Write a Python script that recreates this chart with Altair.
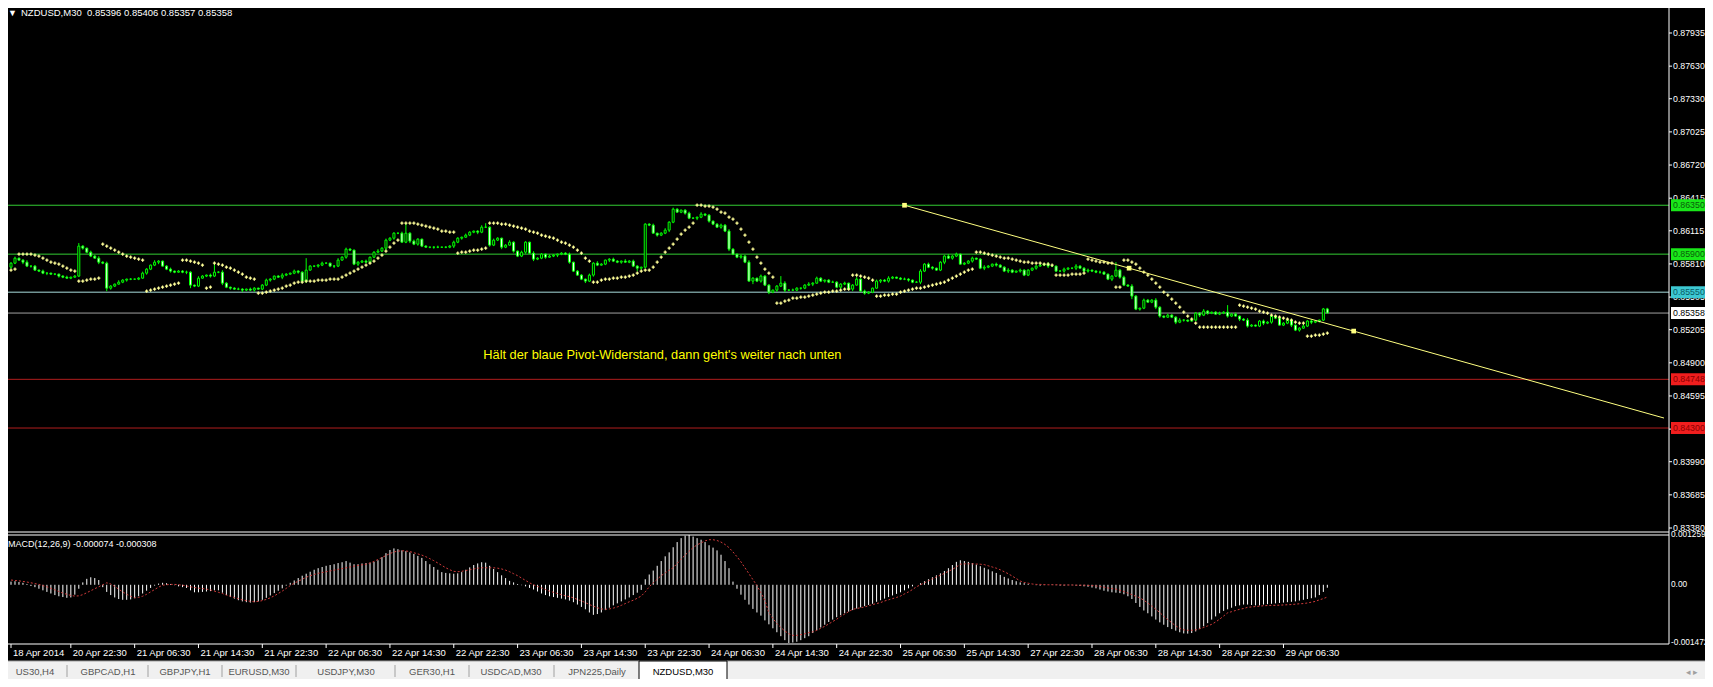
import altair as alt
import pandas as pd

# ---------------------------------------------------------------- data
SYMBOL = "NZDUSD,M30"

# close of every M30 bar, in 1e-5 price units
CLOSE_E5 = [
 85817,85863,85845,85826,85790,85790,85753,85744,85725,85725,85716,85716,85698,85688,85679,85688,85698,
 85974,85955,85918,85882,85863,85826,85817,85587,85606,85624,85642,85661,85670,85670,85670,85679,
 85725,85762,85799,85826,85836,85790,85762,85744,85734,85744,85734,85734,85615,85606,85679,85698,
 85707,85698,85734,85734,85633,85596,85587,85578,85578,85569,85578,85569,85587,85578,85615,85661,
 85670,85698,85688,85707,85716,85725,85744,85734,85652,85753,85790,85790,85799,85817,85817,85790,
 85790,85845,85872,85946,85937,85808,85826,85836,85826,85872,85918,85928,85955,86029,86047,86093,
 86093,86010,86093,86020,85992,86038,85974,85964,85964,85964,85964,85964,85964,85974,86010,86047,
 86056,86075,86102,86112,86102,86148,86148,85983,86029,86047,85964,85983,86010,85928,85882,85918,
 86010,85909,85854,85863,85900,85872,85882,85891,85900,85909,85900,85826,85744,85707,85670,85652,
 85707,85817,85799,85808,85845,85854,85836,85826,85836,85826,85836,85790,85771,85780,86176,86167,
 86093,86075,86093,86121,86194,86314,86286,86305,86277,86231,86231,86240,86268,86259,86204,86176,
 86148,86167,86112,85946,85900,85872,85882,85826,85652,85679,85652,85698,85615,85550,85569,85606,
 85633,85569,85569,85569,85587,85587,85615,85624,85633,85679,85652,85661,85642,85642,85596,85624,
 85633,85578,85615,85670,85560,85541,85550,85587,85652,85661,85652,85679,85688,85679,85670,85670,
 85661,85642,85642,85744,85808,85780,85771,85753,85826,85882,85863,85882,85900,85808,85817,85836,
 85863,85854,85771,85780,85790,85808,85799,85780,85744,85753,85734,85744,85753,85707,85753,85771,
 85790,85799,85808,85790,85790,85744,85744,85762,85771,85771,85790,85771,85744,85753,85744,85734,
 85734,85716,85670,85698,85753,85688,85615,85606,85514,85394,85403,85477,85458,85477,85412,85330,
 85320,85339,85320,85274,85293,85293,85284,85293,85357,85339,85376,85357,85366,85348,85357,85366,
 85330,85348,85330,85302,85293,85238,85247,85238,85284,85265,85274,85330,85311,85247,85265,85293,
 85247,85201,85219,85238,85284,85274,85284,85293,85396,85358,
]
FIRST_OPEN_E5 = 85780

# wick lengths above / below the candle body, 1e-5 units
UPPER_WICK_E5 = [
 9,14,5,9,18,5,9,5,14,9,5,9,5,9,14,5,
 9,28,9,5,14,9,18,9,14,9,5,18,9,5,9,5,
 9,14,9,5,18,9,5,9,14,5,9,9,14,9,5,18,
 9,5,14,83,9,18,9,5,9,14,9,5,14,9,5,9,
 14,9,5,9,18,9,5,14,9,9,110,9,5,9,14,9,
 5,9,18,9,14,9,5,9,9,14,5,9,18,9,14,9,
 9,5,14,92,9,14,9,5,9,5,9,14,5,9,9,14,
 9,5,14,9,5,9,18,37,9,14,9,5,9,18,9,5,
 14,9,5,18,9,9,5,14,9,5,9,9,14,5,9,9,
 5,14,9,18,9,5,9,14,9,5,18,9,14,9,5,9,
 9,14,5,9,18,9,14,9,5,9,14,9,5,18,9,9,
 5,9,14,9,18,9,5,14,9,18,9,5,14,9,9,5,
 9,65,18,9,14,9,5,9,18,9,14,9,5,9,14,9,
 9,14,5,9,18,9,14,9,5,14,9,9,18,9,5,9,
 14,9,5,9,18,9,14,9,5,9,9,18,9,14,5,9,
 9,14,5,9,18,9,5,14,9,9,18,9,5,14,9,9,
 5,9,14,9,18,9,5,9,14,9,5,18,9,9,14,5,
 9,14,9,5,9,73,9,14,9,18,9,5,14,9,9,18,
 9,5,14,9,9,18,9,5,14,9,9,18,9,5,9,14,
 9,65,9,14,5,9,18,9,5,9,14,9,18,9,5,9,
 14,9,5,9,18,9,14,9,5,9,10,
]
LOWER_WICK_E5 = [
 14,9,5,18,9,14,5,9,9,18,5,9,14,9,5,9,
 5,9,14,9,9,5,18,9,28,14,9,5,9,14,9,5,
 9,5,14,9,9,18,5,9,14,9,5,9,18,28,9,9,
 5,9,14,9,9,18,9,14,5,9,18,9,9,14,5,9,
 9,14,9,5,18,9,5,9,14,9,18,5,9,14,9,5,
 9,18,9,5,14,9,9,18,5,9,14,9,5,9,18,9,
 14,9,5,9,18,9,14,9,5,9,14,9,5,9,9,18,
 9,14,5,9,9,18,9,5,14,9,9,18,9,5,14,9,
 9,14,5,18,9,9,14,5,9,18,9,9,14,9,5,9,
 18,9,14,9,5,9,18,9,9,14,5,9,9,28,14,9,
 9,5,14,9,9,18,9,5,9,14,9,5,18,9,9,14,
 9,5,14,9,18,9,9,14,9,5,28,9,14,9,18,9,
 14,9,18,9,5,9,14,9,9,18,5,9,14,9,5,9,
 14,9,9,18,5,9,14,9,9,5,18,9,14,9,5,9,
 9,14,9,5,18,9,9,14,5,9,18,9,14,9,5,9,
 9,14,5,9,18,9,9,14,5,9,18,9,5,14,9,9,
 9,14,5,9,18,9,9,5,14,9,9,18,5,9,14,9,
 9,14,5,9,18,9,14,9,5,28,9,14,9,5,9,18,
 14,9,5,9,18,9,14,9,5,9,18,9,14,9,5,9,
 9,14,9,5,18,9,14,9,5,9,18,9,14,9,5,9,
 9,18,9,14,5,9,18,9,14,9,1,
]

# parabolic SAR per bar, 1e-5 units
SAR_E5 = [
 85753,85762,
 85900,85900,85900,85900,85891,85882,85863,85845,85826,85817,85808,85790,85771,85753,85744,
 85652,85652,85661,85670,85670,85679,
 85992,85974,85955,85937,85918,85900,85882,85872,85863,85854,85845,
 85560,85569,85578,85587,85596,85606,85615,85624,85633,
 85845,85845,85836,85826,85817,85799,
 85587,85596,
 85817,85808,85799,85780,85771,85753,85734,85716,85688,85679,85670,
 85541,85541,85550,85560,85569,85578,85587,85606,85615,85633,
 85642,85642,85652,85652,85652,85661,85661,85661,85670,85670,
 85670,85688,85707,85725,85744,85762,85780,85799,85817,85836,85863,85891,
 85928,85964,86001,86029,
 86185,86185,86185,86185,86176,86167,86158,86148,86139,86130,86112,86112,86102,86102,
 85909,85918,85918,85928,85937,85937,85946,85955,
 86185,86185,86185,86176,86176,86167,86158,86148,86139,86130,86112,86102,86093,86075,86066,86056,86047,86029,
 86010,86001,85983,85964,85937,85909,
 85863,85836,
 85642,85642,85661,85670,85670,85679,85679,85688,85688,85698,85707,85725,85744,85753,85753,85780,
 85826,85872,85918,85955,85992,86038,86084,86121,86148,86185,
 86351,86351,86342,86342,86332,86314,86286,86277,86240,86222,86185,86130,86075,86010,85946,85872,
 85817,85762,85725,85688,
 85449,85449,85468,85477,85495,85495,85504,85504,85514,85523,85532,85541,85550,85550,85560,85560,
 85569,85578,85578,
 85707,85707,85698,85688,85679,85661,
 85514,85514,85523,85523,85532,85532,
 85550,85560,85569,85578,85587,85587,85596,85606,85615,85624,85633,
 85642,85661,85679,85698,85716,85734,85753,85762,
 85918,85918,85909,85900,85891,85882,85872,85863,85863,85854,85845,85836,85826,85826,85817,85817,
 85817,85808,85808,85799,
 85707,85707,85707,85707,85716,85716,85716,85725,
 85854,85845,85836,85826,85826,85817,85817,
 85596,85596,
 85845,85845,85826,85808,85771,
 85734,85707,85670,85633,85596,85550,85523,85486,85449,85412,85366,85330,85302,85265,
 85228,85228,85228,85228,85228,85228,85228,85228,85228,85228,
 85431,85422,85412,85403,85394,85376,85366,85357,85339,85330,85320,85311,85302,85293,85274,85265,85265,
 85146,85146,85155,85155,85164,85173,
]

# MACD(12,26,9) main value and signal per bar, 1e-6 units
MACD_E6 = [
 80,90,70,50,20,
 -30,-60,-100,-140,-180,-220,-260,-290,-310,-330,-320,
 -250,-100,60,150,190,170,120,
 -60,-180,-260,-320,-360,-380,-380,-370,-340,-290,-220,
 -150,-80,-20,30,50,40,20,
 -10,-40,-60,-80,-140,-190,-190,-180,-170,-160,-140,-140,
 -200,-260,-310,-350,-390,-420,-440,-450,-440,-420,-380,
 -330,-270,-210,-150,-90,
 -20,50,110,170,230,280,330,
 380,420,450,480,500,520,550,570,600,
 560,520,520,540,550,560,580,620,
 700,800,880,920,900,
 870,850,820,780,730,680,
 600,520,450,380,320,
 300,290,280,290,320,380,440,
 500,540,570,560,
 480,400,320,240,
 170,100,60,20,-10,
 -40,-80,-120,-170,
 -220,-260,-290,-310,-330,-350,-370,-400,-440,-500,-560,-620,
 -700,-760,-740,-700,
 -640,-580,-520,-470,-420,-370,-320,
 -260,-200,-130,
 140,260,360,
 480,600,720,820,950,
 1080,1180,1240,1259,
 1220,1180,1140,1080,1000,940,870,
 760,600,420,80,
 -100,-250,-380,-500,-610,-700,-780,
 -900,-1000,-1100,-1200,-1300,-1400,-1472,
 -1460,-1440,-1400,-1350,-1300,
 -1220,-1150,-1080,-1010,-940,-880,-820,-770,-720,-680,-640,-600,-570,-540,-510,-480,
 -430,-390,-350,-310,-270,-230,-190,-140,-90,
 -40,0,40,
 90,140,190,240,290,
 350,420,500,580,620,
 600,580,550,510,470,430,
 390,340,300,250,200,160,120,90,
 60,40,20,0,
 -10,-20,-10,0,10,-10,-20,-20,-10,-10,-20,-30,-40,-50,-70,-90,-120,-150,
 -170,-190,-200,-210,-240,-290,-360,
 -460,-560,-650,-720,-800,-880,-950,
 -1010,-1070,-1120,-1160,-1200,-1230,-1235,-1220,
 -1180,-1120,-1050,-970,-880,-800,
 -720,-660,-620,-580,-540,
 -520,-500,-500,-510,-520,-520,
 -500,-490,-480,-470,-460,-450,-440,
 -430,-420,-400,-380,-360,-340,-320,
 -260,-180,-74,
]
SIGNAL_E6 = [
 120,110,100,85,70,50,30,10,-20,-50,-90,-130,-170,-210,-240,-270,-285,
 -280,-250,-200,-150,-100,-50,0,50,
 20,-40,-110,-180,-240,-290,-330,
 -320,-290,-240,-180,-120,-60,-10,
 0,10,10,0,-10,-30,
 -50,-70,-85,-95,
 -110,-130,-160,-190,-220,-260,-290,-320,-350,-380,-400,-420,-430,
 -420,-400,-370,-330,-280,-220,-160,-90,-20,
 40,90,140,190,230,260,290,310,330,
 350,370,390,410,430,450,470,490,505,520,
 550,590,640,690,740,790,830,850,860,855,
 840,810,780,750,710,660,610,550,490,430,380,340,
 330,340,360,380,400,420,430,430,430,430,420,400,370,330,
 280,230,170,110,50,0,-40,-80,-120,-160,-190,
 -220,-250,-280,-300,-330,-370,-410,-450,-500,-540,-580,-610,-620,
 -610,-590,-560,-520,-475,-430,-390,-340,-285,-180,-50,
 50,140,230,300,370,430,540,650,750,850,940,1010,1060,1110,1140,
 1140,1120,1080,1020,940,830,710,580,430,280,130,
 -20,-200,-400,-710,-850,-980,-1080,-1170,-1240,-1280,-1280,
 -1260,-1240,-1210,-1190,-1150,-1100,-1050,-990,-930,-870,-800,-740,-680,
 -620,-600,-580,-560,-530,-500,-475,-450,-410,-380,-350,-320,-285,-230,-180,-120,-50,
 0,50,100,150,200,240,290,340,390,450,520,530,530,530,525,520,510,
 480,450,420,380,330,280,220,160,95,60,40,20,
 10,10,5,0,0,0,0,-5,-5,-5,-10,-10,-10,-15,-20,-30,
 -40,-60,-80,-95,-110,-140,-170,-210,-250,-290,-330,
 -390,-460,-540,-620,-700,-800,-880,-960,-1040,-1100,-1140,-1150,-1150,-1140,
 -1110,-1080,-1040,-1000,-940,-870,-790,-710,-680,-650,-620,-600,-570,
 -560,-550,-540,-530,-525,-520,-520,-515,-510,-505,-500,-490,-480,-475,-460,-440,-420,-380,-350,-308,
]

PRICE_TICKS = [0.87935, 0.87630, 0.87330, 0.87025, 0.86720, 0.86415, 0.86115, 0.85810,
               0.85505, 0.85205, 0.84900, 0.84595, 0.84290, 0.83990, 0.83685, 0.83380]
LEVEL_PRICES = [0.86350, 0.85900, 0.85550, 0.85358, 0.84748, 0.84300]
LEVEL_KIND = ["green", "green", "pivot", "bid", "red", "red"]
TREND_BARS = [224.0, 336.6]
TREND_PRICES = [0.86350, 0.85192]
MACD_TICKS = [0.001259, 0.0, -0.001472]
TIME_LABELS = ["18 Apr 2014", "20 Apr 22:30", "21 Apr 06:30", "21 Apr 14:30", "21 Apr 22:30",
               "22 Apr 06:30", "22 Apr 14:30", "22 Apr 22:30", "23 Apr 06:30", "23 Apr 14:30",
               "23 Apr 22:30", "24 Apr 06:30", "24 Apr 14:30", "24 Apr 22:30", "25 Apr 06:30",
               "25 Apr 14:30", "27 Apr 22:30", "28 Apr 06:30", "28 Apr 14:30", "28 Apr 22:30",
               "29 Apr 06:30"]
TIME_LABEL_BARS = [0, 15, 31, 47, 63, 79, 95, 111, 127, 143, 159, 175, 191, 207, 223, 239,
                   255, 271, 287, 303, 319]
TABS = ["US30,H4", "GBPCAD,H1", "GBPJPY,H1", "EURUSD,M30", "USDJPY,M30", "GER30,H1",
        "USDCAD,M30", "JPN225,Daily", "NZDUSD,M30"]
ANNOTATION = "Hält der blaue Pivot-Widerstand, dann geht's weiter nach unten"
ANNOT_BAR = 118.4
ANNOT_PRICE = 0.84973

# ---------------------------------------------------------------- layout / style
W, H = 1697, 671
FONT = "Liberation Sans"
AXIS_FS = 8.8
MACD_FS = 8.3
X_DOMAIN = [0, 414.4]
X_RANGE = [-2, 1661]
AXIS_X = 1661            # price-axis line (canvas px)
MAIN_BOTTOM = 524
SUB_TOP = 527
SUB_BOTTOM = 635
TIME_Y = 645
TAB_TOP = 653
CANDLE = "#00ff00"
SAR_COL = "#ffff99"
TREND_COL = "#ffff80"
LEVEL_STYLE = {
    "green": dict(line="#33cc33", box="#19e619", text="#0b5c0b"),
    "pivot": dict(line="#a8dcdc", box="#3cc8d2", text="#0a5a64"),
    "bid":   dict(line="#a0a0a0", box="#ffffff", text="#000000"),
    "red":   dict(line="#b01e1e", box="#f01e1e", text="#8c0000"),
}
TAB_SEPS = [59, 140, 214, 288, 387, 461, 546]
TAB_CENTERS = [27, 100, 177, 251, 338, 424, 503, 589, 675]
ACTIVE_TAB = [631, 719]

XS = alt.Scale(domain=X_DOMAIN, range=X_RANGE, nice=False, zero=False)
PS = alt.Scale(domain=[PRICE_TICKS[-1], PRICE_TICKS[0]], range=[520, 25], nice=False, zero=False)
MS = alt.Scale(domain=[MACD_TICKS[-1], MACD_TICKS[0]], range=[SUB_BOTTOM, SUB_TOP], nice=False, zero=False)

# ---------------------------------------------------------------- tables
n = len(CLOSE_E5)
opens = [FIRST_OPEN_E5] + CLOSE_E5[:-1]
rows = []
for i in range(n):
    o, c = opens[i] / 1e5, CLOSE_E5[i] / 1e5
    top, bot = max(o, c), min(o, c)
    rows.append(dict(i=i, top=top, bot=bot,
                     hi=top + UPPER_WICK_E5[i] / 1e5, lo=bot - LOWER_WICK_E5[i] / 1e5,
                     bull=bool(c > o), sar=SAR_E5[i] / 1e5,
                     macd=MACD_E6[i] / 1e6, sig=SIGNAL_E6[i] / 1e6, zero=0.0))
bars = pd.DataFrame(rows)
last = rows[-1]
header = (f"{SYMBOL}\u00a0\u00a0{opens[-1]/1e5:.5f} {last['hi']:.5f} "
          f"{last['lo']:.5f} {CLOSE_E5[-1]/1e5:.5f}")
macd_title = f"MACD(12,26,9) {MACD_E6[-1]/1e6:.6f} {SIGNAL_E6[-1]/1e6:.6f}"

levels = pd.DataFrame({
    "p": LEVEL_PRICES,
    "line": [LEVEL_STYLE[k]["line"] for k in LEVEL_KIND],
    "box": [LEVEL_STYLE[k]["box"] for k in LEVEL_KIND],
    "txt": [LEVEL_STYLE[k]["text"] for k in LEVEL_KIND],
})
slope = (TREND_PRICES[1] - TREND_PRICES[0]) / (TREND_BARS[1] - TREND_BARS[0])
trend = pd.DataFrame({"i": [TREND_BARS[0], X_DOMAIN[1]],
                      "p": [TREND_PRICES[0], TREND_PRICES[0] + slope * (X_DOMAIN[1] - TREND_BARS[0])]})
handles = pd.DataFrame({"i": [TREND_BARS[0], sum(TREND_BARS) / 2, TREND_BARS[1]],
                        "p": [TREND_PRICES[0], sum(TREND_PRICES) / 2, TREND_PRICES[1]]})
pticks = pd.DataFrame({"p": PRICE_TICKS})
mticks = pd.DataFrame({"m": MACD_TICKS, "t": ["0.001259", "0.00", "-0.001472"],
                       "dy": [5, 0, -6]})
tlabels = pd.DataFrame({"i": TIME_LABEL_BARS, "t": TIME_LABELS})
ONE = pd.DataFrame({"k": [0]})

X = lambda f: alt.X(f, type="quantitative", scale=XS, axis=None)
YP = lambda f: alt.Y(f, type="quantitative", scale=PS, axis=None)
YM = lambda f: alt.Y(f, type="quantitative", scale=MS, axis=None)


def rule(x, x2, y, y2, color, w=1):
    return alt.Chart(ONE).mark_rule(color=color, strokeWidth=w).encode(
        x=alt.value(x), x2=alt.value(x2), y=alt.value(y), y2=alt.value(y2))


def rect(x, x2, y, y2, fill, stroke=None):
    kw = dict(fill=fill)
    if stroke:
        kw.update(stroke=stroke, strokeWidth=1)
    return alt.Chart(ONE).mark_rect(**kw).encode(
        x=alt.value(x), x2=alt.value(x2), y=alt.value(y), y2=alt.value(y2))


def label(text, x, y, color, size=9.5, align="left"):
    return alt.Chart(ONE).mark_text(text=text, color=color, fontSize=size, font=FONT,
                                    align=align, baseline="middle").encode(
        x=alt.value(x), y=alt.value(y))


layers = []
# price levels
layers.append(alt.Chart(levels).mark_rule(strokeWidth=1).encode(
    x=alt.value(-3), x2=alt.value(AXIS_X), y=YP("p"), color=alt.Color("line:N", scale=None)))
# candles
layers.append(alt.Chart(bars).mark_rule(color=CANDLE, strokeWidth=1).encode(
    x=X("i"), y=YP("hi"), y2=alt.Y2("lo")))
layers.append(alt.Chart(bars).mark_bar(size=2, stroke=CANDLE, strokeWidth=1).encode(
    x=X("i"), y=YP("top"), y2=alt.Y2("bot"),
    fill=alt.condition("datum.bull", alt.value("#000000"), alt.value("#ffffff"))))
# parabolic SAR
layers.append(alt.Chart(bars).mark_point(shape="cross", size=10, filled=True, color=SAR_COL,
                                         opacity=1).encode(x=X("i"), y=YP("sar")))
# trend line
layers.append(alt.Chart(trend).mark_line(color=TREND_COL, strokeWidth=1).encode(
    x=X("i"), y=YP("p")))
layers.append(alt.Chart(handles).mark_square(size=22, color=TREND_COL, filled=True,
                                             opacity=1).encode(x=X("i"), y=YP("p")))
# annotation
layers.append(alt.Chart(ONE).mark_text(text=ANNOTATION, color="#ffff00", fontSize=12.8,
                                       font=FONT, align="left", baseline="middle").encode(
    x=alt.X("a:Q", scale=XS, axis=None), y=YP("b")).transform_calculate(
    a=str(ANNOT_BAR), b=str(ANNOT_PRICE)))
# price axis
layers.append(alt.Chart(pticks).mark_rule(color="#ffffff").encode(
    x=alt.value(AXIS_X), x2=alt.value(AXIS_X + 3), y=YP("p")))
layers.append(alt.Chart(pticks).mark_text(color="#ffffff", fontSize=AXIS_FS, font=FONT,
                                          align="left", baseline="middle").encode(
    x=alt.value(AXIS_X + 4), y=YP("p"), text=alt.Text("p:Q", format=".5f")))
BOX = "M-1,-0.2857L1,-0.2857L1,0.2857L-1,0.2857Z"
layers.append(alt.Chart(levels).mark_point(shape=BOX, size=1764, filled=True, opacity=1,
                                           strokeWidth=0).encode(
    x=alt.value(AXIS_X + 23), y=YP("p"), fill=alt.Color("box:N", scale=None)))
layers.append(alt.Chart(levels).mark_text(fontSize=AXIS_FS, font=FONT, align="left",
                                          baseline="middle").encode(
    x=alt.value(AXIS_X + 4), y=YP("p"), text=alt.Text("p:Q", format=".5f"),
    color=alt.Color("txt:N", scale=None)))
# MACD
layers.append(alt.Chart(bars).mark_rule(color="#ffffff", strokeWidth=1).encode(
    x=X("i"), y=YM("macd"), y2=alt.Y2("zero")))
layers.append(alt.Chart(bars).mark_line(color="#d03a3a", strokeWidth=1,
                                        strokeDash=[2, 2]).encode(x=X("i"), y=YM("sig")))
layers.append(alt.Chart(mticks).mark_text(color="#ffffff", fontSize=MACD_FS, font=FONT,
                                          align="left", baseline="middle").encode(
    x=alt.value(AXIS_X + 2), y=YM("m"), text="t:N", yOffset=alt.YOffset("dy:Q", scale=None)))
# frame
layers.append(rule(-3, AXIS_X, MAIN_BOTTOM, MAIN_BOTTOM, "#ffffff"))
layers.append(rule(-3, AXIS_X, SUB_TOP, SUB_TOP, "#ffffff"))
layers.append(rule(-3, AXIS_X, SUB_BOTTOM + 1, SUB_BOTTOM + 1, "#ffffff"))
layers.append(rule(AXIS_X, AXIS_X, -3, SUB_BOTTOM + 1, "#ffffff"))
# time axis
layers.append(alt.Chart(tlabels).mark_rule(color="#ffffff").encode(
    x=X("i"), y=alt.value(SUB_BOTTOM + 1), y2=alt.value(SUB_BOTTOM + 5)))
layers.append(alt.Chart(tlabels).mark_text(color="#ffffff", fontSize=9.5, font=FONT,
                                           align="left", baseline="middle", dx=2).encode(
    x=X("i"), y=alt.value(TIME_Y), text="t:N"))
# titles
layers.append(label("\u25bc", 0, 5, "#ffffff", 9))
layers.append(label(header, 13, 5, "#ffffff"))
layers.append(label(macd_title, 0, 536, "#ffffff", 9))
# tab bar
layers.append(rect(-3, W, TAB_TOP, H, "#f0f0f0"))
layers.append(rule(-3, W, TAB_TOP, TAB_TOP, "#a0a0a0"))
for s in TAB_SEPS:
    layers.append(rule(s, s, TAB_TOP + 4, TAB_TOP + 16, "#a0a0a0"))
layers.append(rect(ACTIVE_TAB[0], ACTIVE_TAB[1], TAB_TOP, H + 2, "#ffffff", "#000000"))
for k, t in enumerate(TABS):
    layers.append(label(t, TAB_CENTERS[k], TAB_TOP + 11,
                        "#000000" if k == len(TABS) - 1 else "#555555", 9.5, "center"))
layers.append(label("\u25c2 \u25b8", 1684, TAB_TOP + 11, "#a0a0a0", 9, "center"))

chart = alt.layer(*layers).resolve_scale(y="independent").properties(
    width=W, height=H, autosize=alt.AutoSizeParams(type="none"), padding=0
).configure(background="#000000").configure_view(strokeWidth=0)

chart.save("out.html", embed_options={"renderer": "svg", "actions": False})
